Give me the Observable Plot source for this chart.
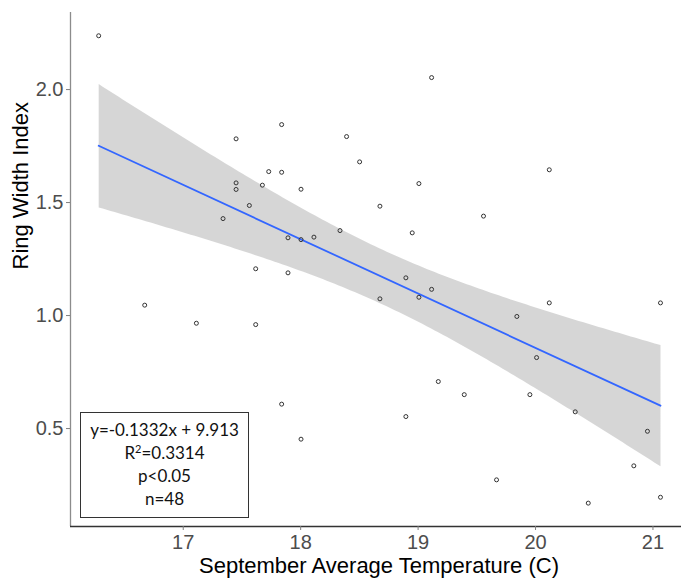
<!DOCTYPE html>
<html>
<head>
<meta charset="utf-8">
<script src="https://cdn.jsdelivr.net/npm/d3@7"></script>
<script src="https://cdn.jsdelivr.net/npm/@observablehq/plot@0.6"></script>
<style>
  html, body { margin: 0; padding: 0; background: #fff; }
  #wrap { position: relative; width: 681px; height: 581px; overflow: hidden; }
  #stats {
    position: absolute; left: 80px; top: 412px; width: 167px; height: 99px;
    border: 1.5px solid #333; background: #fff;
    font-family: Lato, "Open Sans", sans-serif; font-size: 17px; color: #111;
    text-align: center; line-height: 23px; padding-top: 5px; box-sizing: content-box;
  }
  #stats div { height: 23px; }
  #stats sup { font-size: 11px; line-height: 0; vertical-align: 6px; }
</style>
</head>
<body>
<div id="wrap"></div>
<script>
// September average temperature (C)
const temps = [
  16.28, 17.45, 17.45, 17.45, 17.674, 17.728, 17.563, 17.339,
  17.838, 18.391, 19.115, 18.502, 17.838, 18.003, 19.007, 18.675,
  18.95, 18.335, 17.892, 18.003, 18.113, 20.117, 19.557, 17.617,
  16.672, 17.112, 17.617, 17.892, 18.896, 19.115, 19.007, 18.675,
  19.172, 19.393, 17.838, 18.896, 18.003, 20.117, 21.064, 19.841,
  20.009, 19.952, 20.338, 20.953, 20.837, 19.668, 20.449, 21.064
];
// Ring width index
const rwi = [
  2.238, 1.782, 1.587, 1.558, 1.577, 1.637, 1.487, 1.429,
  1.845, 1.792, 2.053, 1.680, 1.634, 1.559, 1.584, 1.484,
  1.366, 1.376, 1.344, 1.336, 1.347, 1.645, 1.440, 1.207,
  1.046, 0.966, 0.960, 1.189, 1.167, 1.116, 1.081, 1.074,
  0.708, 0.650, 0.608, 0.553, 0.453, 1.056, 1.056, 0.996,
  0.814, 0.650, 0.574, 0.488, 0.335, 0.273, 0.170, 0.196
];
const xTicks = [17, 18, 19, 20, 21];
const yTicks = [0.5, 1.0, 1.5, 2.0];
const xTitle = "September Average Temperature (C)";
const yTitle = "Ring Width Index";
const statLines = ["y=-0.1332x + 9.913", "R<sup>2</sup>=0.3314", "p&lt;0.05", "n=48"];

const data = temps.map((t, i) => ({t, r: rwi[i]}));
const xDomain = [16.04, 21.243];
const yDomain = [0.0666, 2.341];

const chart = Plot.plot({
  width: 681, height: 581,
  marginLeft: 70, marginRight: 0, marginTop: 12, marginBottom: 55,
  style: {fontFamily: "'Liberation Sans', Arial, sans-serif", background: "#fff", overflow: "visible"},
  x: {domain: xDomain},
  y: {domain: yDomain},
  marks: [
    Plot.linearRegressionY(data, {x: "t", y: "r", stroke: "#3366FF", strokeWidth: 1.8, fill: "#999999", fillOpacity: 0.4}),
    Plot.dot(data, {x: "t", y: "r", r: 2, stroke: "#333", strokeWidth: 1, fill: "none"}),
    Plot.ruleX([xDomain[0]], {stroke: "#8c8c8c", strokeWidth: 1.3}),
    Plot.ruleY([yDomain[0]], {stroke: "#333", strokeWidth: 1.3}),
    Plot.axisX({ticks: xTicks, tickFormat: d => String(d), tickSize: 4, tickPadding: 4, fontSize: 20, color: "#4d4d4d", stroke: "#7f7f7f", label: null}),
    Plot.axisY({ticks: yTicks, tickFormat: d3.format(".1f"), tickSize: 4, tickPadding: 3, fontSize: 20, color: "#4d4d4d", stroke: "#7f7f7f", label: null}),
    Plot.text([xTitle], {frameAnchor: "bottom", dx: 3, dy: 46, fontSize: 22, fill: "#000"}),
    Plot.text([yTitle], {frameAnchor: "left", rotate: -90, dx: -50, fontSize: 22, fill: "#000"})
  ]
});
const wrap = document.getElementById("wrap");
wrap.appendChild(chart);
const box = document.createElement("div");
box.id = "stats";
box.innerHTML = statLines.map(s => `<div>${s}</div>`).join("");
wrap.appendChild(box);
</script>
</body>
</html>
